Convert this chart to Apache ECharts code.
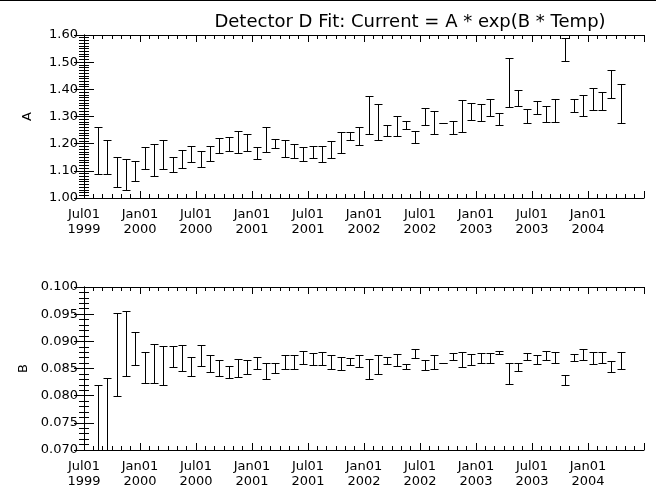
<!DOCTYPE html>
<html><head><meta charset="utf-8">
<script src="https://cdn.jsdelivr.net/npm/echarts@6/dist/echarts.min.js"></script>
<style>html,body{margin:0;padding:0;background:#fff}#c{width:656px;height:497px}</style>
</head><body><div id="c"></div>
<script>
const months = ['1999-08','1999-09','1999-10','1999-11','1999-12','2000-01','2000-02','2000-03','2000-04','2000-05','2000-06','2000-07','2000-08','2000-09','2000-10','2000-11','2000-12','2001-01','2001-02','2001-03','2001-04','2001-05','2001-06','2001-07','2001-08','2001-09','2001-10','2001-11','2001-12','2002-01','2002-02','2002-03','2002-04','2002-05','2002-06','2002-07','2002-08','2002-09','2002-10','2002-11','2002-12','2003-01','2003-02','2003-03','2003-04','2003-05','2003-06','2003-07','2003-08','2003-09','2003-10','2003-11','2003-12','2004-01','2004-02','2004-03','2004-04'];
const aHigh = [1.260,1.213,1.152,1.142,1.137,1.187,1.200,1.212,1.152,1.176,1.190,1.173,1.192,1.222,1.226,1.245,1.234,1.189,1.260,1.218,1.212,1.198,1.187,1.190,1.192,1.209,1.242,1.242,1.260,1.374,1.345,1.268,1.301,1.283,1.245,1.330,1.320,1.276,1.283,1.360,1.350,1.345,1.363,1.312,1.514,1.399,1.326,1.358,1.337,1.365,1.589,1.363,1.378,1.404,1.390,1.470,1.420];
const aLow  = [1.088,1.088,1.042,1.028,1.063,1.107,1.082,1.107,1.095,1.110,1.131,1.115,1.136,1.166,1.172,1.165,1.173,1.144,1.168,1.183,1.151,1.146,1.136,1.146,1.131,1.147,1.165,1.212,1.194,1.234,1.212,1.227,1.229,1.253,1.201,1.268,1.234,1.276,1.234,1.242,1.286,1.282,1.301,1.268,1.334,1.337,1.275,1.308,1.279,1.279,1.503,1.317,1.301,1.323,1.323,1.367,1.275];
const bHigh = [0.0819,0.0832,0.0952,0.0955,0.0917,0.0880,0.0896,0.0891,0.0891,0.0893,0.0872,0.0893,0.0874,0.0865,0.0854,0.0868,0.0865,0.0872,0.0860,0.0861,0.0874,0.0874,0.0882,0.0878,0.0880,0.0874,0.0872,0.0869,0.0874,0.0867,0.0874,0.0871,0.0876,0.0858,0.0885,0.0865,0.0874,0.0861,0.0878,0.0880,0.0876,0.0878,0.0878,0.0883,0.0861,0.0861,0.0878,0.0874,0.0882,0.0880,0.0838,0.0876,0.0885,0.0880,0.0880,0.0863,0.0880];
const bLow  = [0.0650,0.0660,0.0799,0.0836,0.0856,0.0823,0.0823,0.0819,0.0852,0.0845,0.0836,0.0854,0.0843,0.0836,0.0832,0.0834,0.0839,0.0850,0.0830,0.0841,0.0849,0.0850,0.0858,0.0856,0.0856,0.0850,0.0847,0.0856,0.0852,0.0830,0.0839,0.0858,0.0854,0.0850,0.0869,0.0847,0.0850,0.0861,0.0865,0.0852,0.0856,0.0860,0.0860,0.0876,0.0821,0.0845,0.0865,0.0858,0.0865,0.0860,0.0819,0.0863,0.0865,0.0858,0.0860,0.0843,0.0849];
const xTickLabels = ['Jul01\n1999','Jan01\n2000','Jul01\n2000','Jan01\n2001','Jul01\n2001','Jan01\n2002','Jul01\n2002','Jan01\n2003','Jul01\n2003','Jan01\n2004',''];
const titleText = 'Detector D Fit: Current = A * exp(B * Temp)';

// month offset from Jul 1999, point at mid-month
function monthPos(s){ const p = s.split('-'); return (+p[0]-1999)*12 + (+p[1]-7) + 0.5; }
const aData = months.map((m,i)=>[monthPos(m), aLow[i], aHigh[i]]);
const bData = months.map((m,i)=>[monthPos(m), bLow[i], bHigh[i]]);

const FONT = 'DejaVu Sans';
const black = '#000';
function errRender(params, api){
  const x = api.value(0), lo = api.value(1), hi = api.value(2);
  const pl = api.coord([x, lo]), ph = api.coord([x, hi]);
  const cx = Math.round(pl[0]) + 0.5;
  const yl = Math.round(pl[1]) + 0.5, yh = Math.round(ph[1]) + 0.5;
  const st = {stroke: black, lineWidth: 1};
  return {type:'group', children:[
    {type:'line', shape:{x1:cx, y1:yh, x2:cx, y2:yl}, style:st},
    {type:'line', shape:{x1:cx-4, y1:yh, x2:cx+4, y2:yh}, style:st},
    {type:'line', shape:{x1:cx-4, y1:yl, x2:cx+4, y2:yl}, style:st}
  ]};
}
function xAx(grid, pos, labels){
  return {type:'value', gridIndex:grid, position:pos, min:0, max:60, interval:6,
    axisLine:{show:true, lineStyle:{color:black, width:1}},
    axisTick:{show:true, inside:true, length:7, lineStyle:{color:black}},
    minorTick:{show:true, splitNumber:6, length:4, lineStyle:{color:black}},
    splitLine:{show:false},
    axisLabel:{show:labels, color:black, fontFamily:FONT, fontSize:13, lineHeight:15, margin:9,
      formatter:(v)=>xTickLabels[Math.round(v/6)] || ''}};
}
function yAx(grid, pos, min, max, iv, minorN, dec, name, labels){
  return {type:'value', gridIndex:grid, position:pos, min:min, max:max, interval:iv,
    name: labels ? name : '', nameLocation:'middle', nameRotate:90, nameGap:50,
    nameTextStyle:{color:black, fontFamily:FONT, fontSize:13},
    axisLine:{show:true, lineStyle:{color:black, width:1}},
    axisTick:{show:true, inside:true, length:10, lineStyle:{color:black}},
    minorTick:{show:true, splitNumber:minorN, length:5, lineStyle:{color:black}},
    splitLine:{show:false},
    axisLabel:{show:labels, color:black, fontFamily:FONT, fontSize:13, margin:6,
      formatter:(v)=>v.toFixed(dec)}};
}
const chart = echarts.init(document.getElementById('c'), null, {renderer:'canvas'});
chart.setOption({
  animation:false,
  backgroundColor:'#fff',
  title:{text:titleText, left:405, top:8, textAlign:'center',
    textStyle:{color:black, fontFamily:FONT, fontSize:18, fontWeight:'normal'}},
  graphic:[{type:'line', shape:{x1:0,y1:0.5,x2:656,y2:0.5}, style:{stroke:black, lineWidth:1}}],
  grid:[
    {left:84, top:35, width:560, height:163},
    {left:84, top:287, width:560, height:163}
  ],
  xAxis:[xAx(0,'bottom',true), xAx(0,'top',false), xAx(1,'bottom',true), xAx(1,'top',false)],
  yAxis:[
    yAx(0,'left',1.0,1.6,0.1,10,2,'A',true), yAx(0,'right',1.0,1.6,0.1,10,2,'A',false),
    yAx(1,'left',0.07,0.1,0.005,5,3,'B',true), yAx(1,'right',0.07,0.1,0.005,5,3,'B',false)
  ],
  series:[
    {type:'custom', xAxisIndex:0, yAxisIndex:0, data:aData, renderItem:errRender, clip:true, encode:{x:0, y:[1,2]}},
    {type:'custom', xAxisIndex:2, yAxisIndex:2, data:bData, renderItem:errRender, clip:true, encode:{x:0, y:[1,2]}}
  ]
});
</script></body></html>
